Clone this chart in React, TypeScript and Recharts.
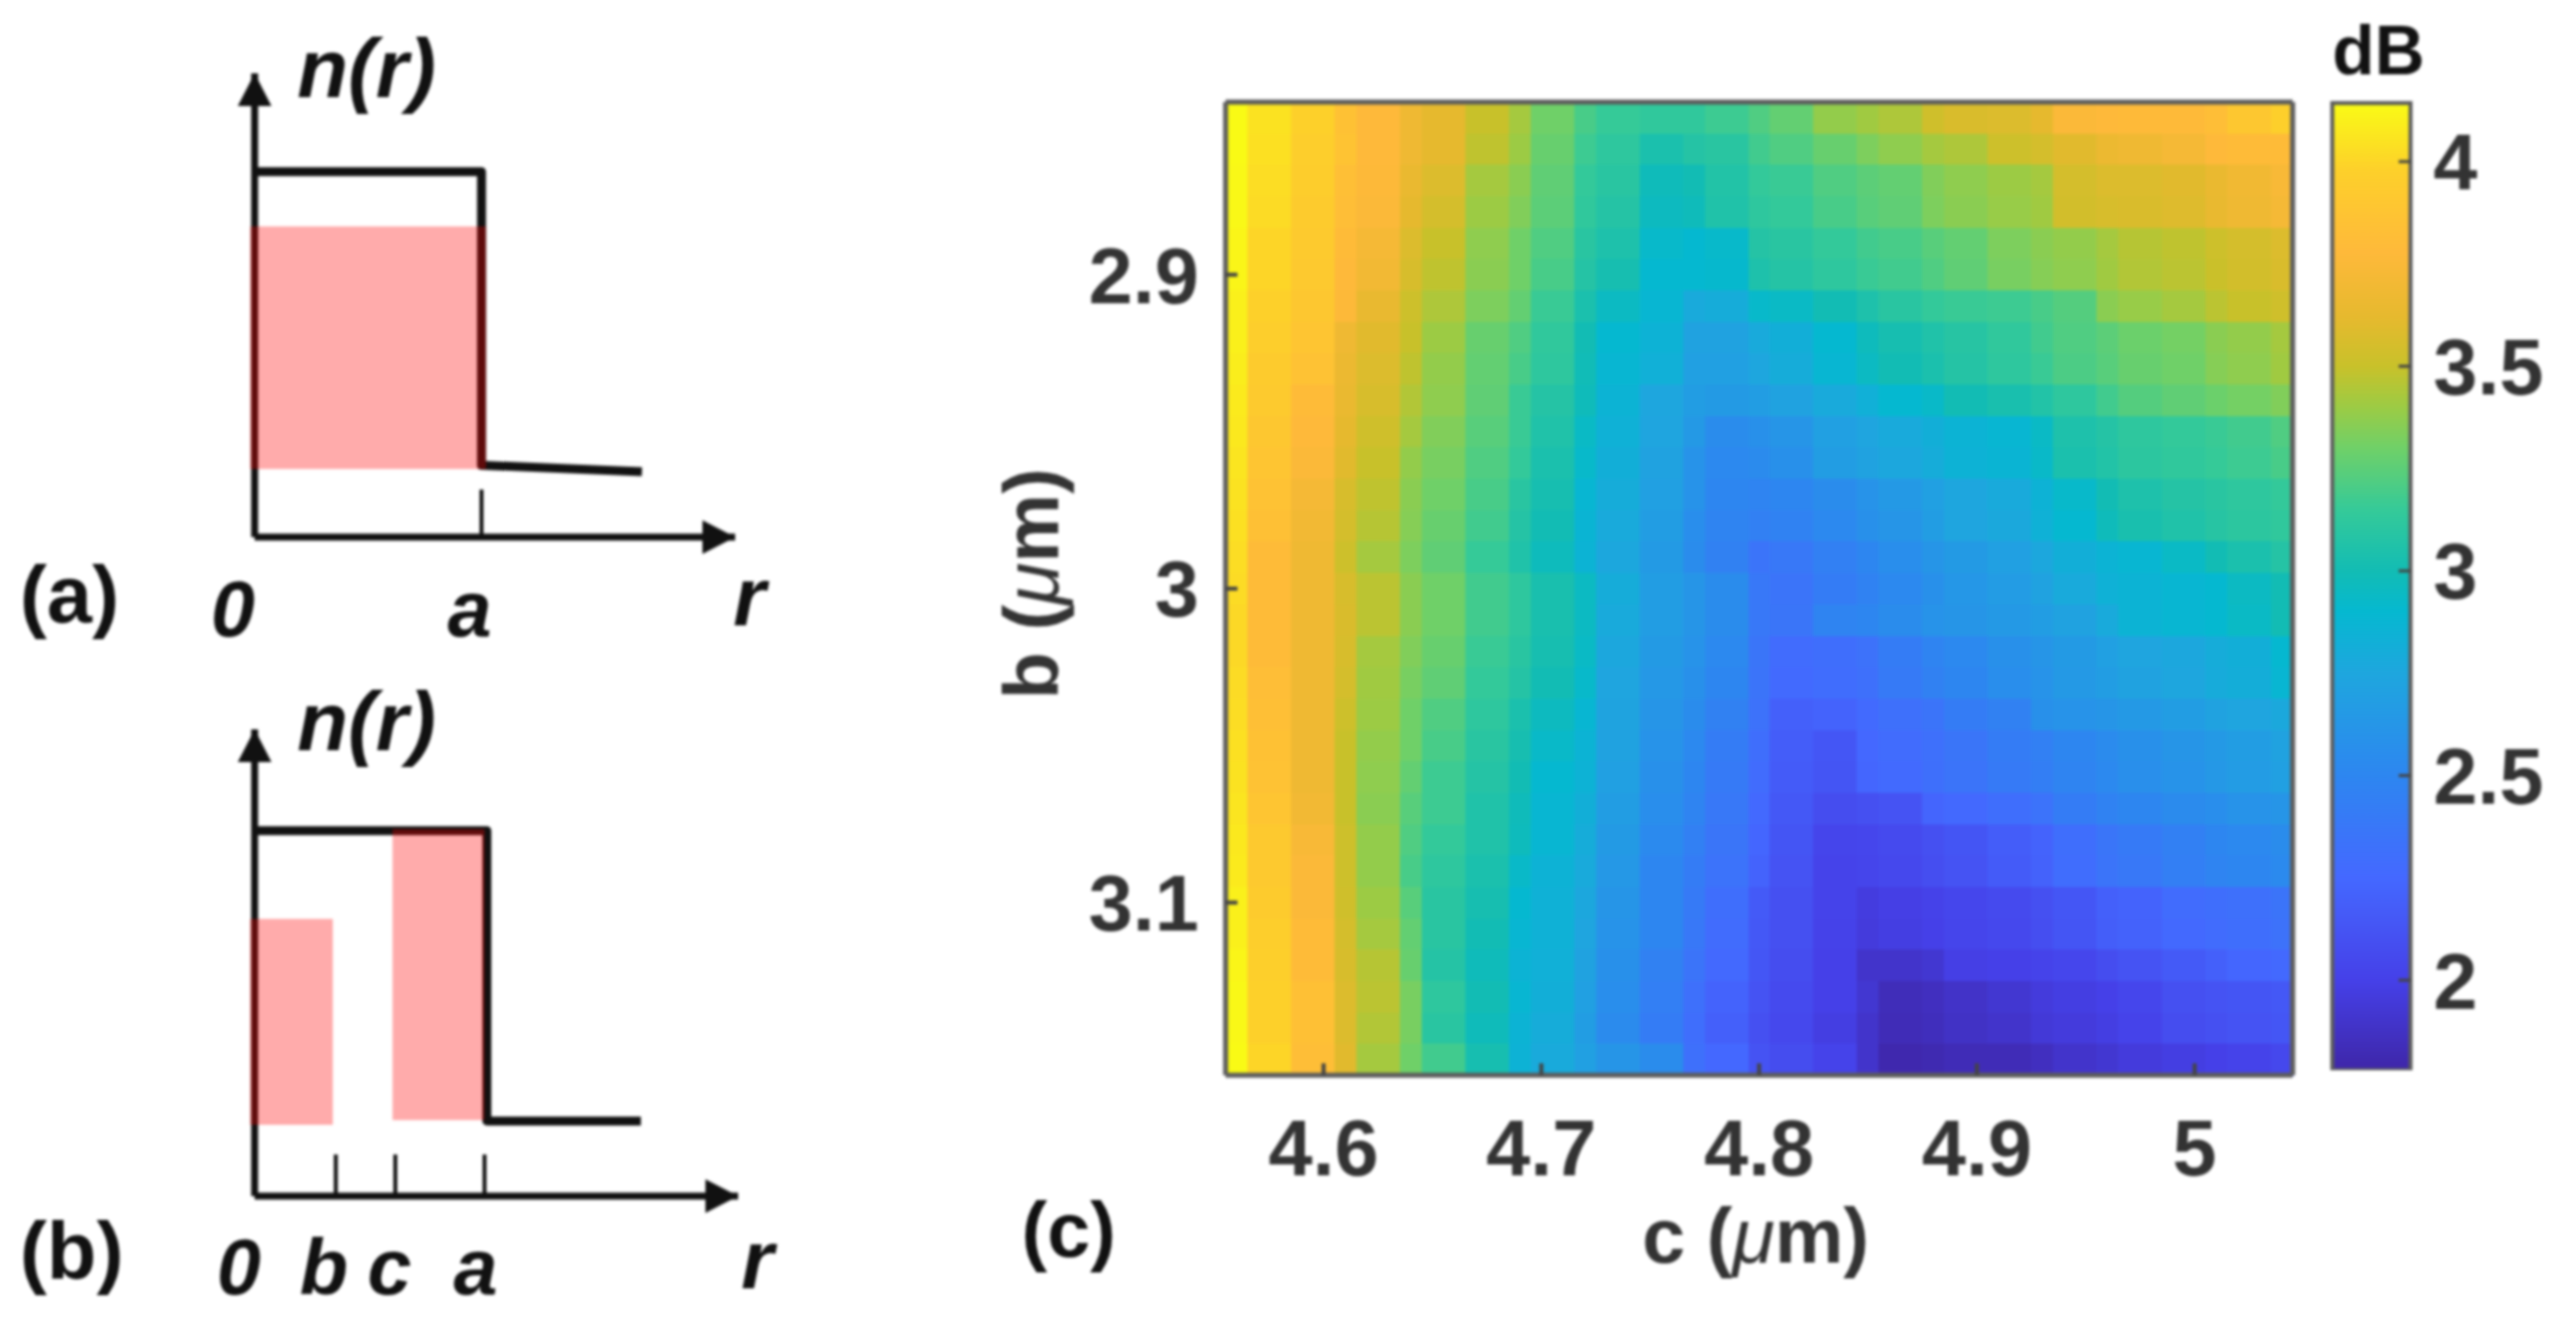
import React from 'react'
import {
  Bar,
  BarChart,
  ComposedChart,
  Line,
  ReferenceArea,
  Scatter,
  ScatterChart,
  XAxis,
  YAxis,
} from 'recharts'

// ---- panel (a) and (b) profiles ----
const profileA = [
  { r: 0, n: 0.788 },
  { r: 1, n: 0.788 },
  { r: 1, n: 0.155 },
  { r: 1.707, n: 0.141 },
]
const profileB = [
  { r: 0, n: 0.783 },
  { r: 1.01, n: 0.783 },
  { r: 1.01, n: 0.161 },
  { r: 1.68, n: 0.161 },
]
const pinkA = [{ from: -0.02, to: 1.02, low: 0.147, high: 0.67 }]
const pinkB = [
  { from: -0.02, to: 0.34, low: 0.153, high: 0.594 },
  { from: 0.6, to: 1.0, low: 0.163, high: 0.786 },
]
const ticksA = [0, 1]
const tickNamesA = ['0', 'a']
const ticksB = [0, 0.353, 0.612, 1]
const tickNamesB = ['0', 'b', 'c', 'a']

// ---- panel (c) heat map ----
const cTicks = [4.6, 4.7, 4.8, 4.9, 5]
const bTicks = [2.9, 3, 3.1]
const barTicks = [2, 2.5, 3, 3.5, 4]
// the columns come out 1 or 2 steps of 0.01 wide in the picture
const cSpans = [1, 2, 2, 1, 2, 1, 2, 2, 1, 2, 1, 2, 2, 1, 2, 1, 2, 2, 1, 2, 1, 2, 2, 1, 2, 1, 2, 2, 1, 2, 1]
const bValues = [
  2.85, 2.86, 2.87, 2.88, 2.89, 2.9, 2.91, 2.92, 2.93, 2.94, 2.95, 2.96, 2.97, 2.98, 2.99, 3, 3.01, 3.02, 3.03, 3.04,
  3.05, 3.06, 3.07, 3.08, 3.09, 3.1, 3.11, 3.12, 3.13, 3.14, 3.15,
]
const dbRows = [
  [4.14, 4.05, 3.98, 3.85, 3.78, 3.68, 3.62, 3.5, 3.42, 3.3, 3.2, 3.15, 3.13, 3.13, 3.17, 3.22, 3.27, 3.38, 3.41, 3.44, 3.53, 3.57, 3.58, 3.62, 3.76, 3.78, 3.79, 3.79, 3.82, 3.9, 3.97],
  [4.14, 4.04, 3.96, 3.87, 3.78, 3.68, 3.62, 3.48, 3.4, 3.28, 3.17, 3.12, 3.04, 3.08, 3.1, 3.18, 3.22, 3.28, 3.33, 3.37, 3.42, 3.44, 3.52, 3.55, 3.6, 3.66, 3.68, 3.72, 3.78, 3.8, 3.8],
  [4.13, 4.03, 3.95, 3.83, 3.77, 3.65, 3.58, 3.42, 3.36, 3.26, 3.14, 3.1, 2.98, 3.0, 3.07, 3.14, 3.16, 3.22, 3.25, 3.27, 3.34, 3.37, 3.4, 3.42, 3.55, 3.58, 3.58, 3.6, 3.65, 3.69, 3.74],
  [4.13, 4.02, 3.94, 3.82, 3.76, 3.62, 3.55, 3.4, 3.34, 3.25, 3.13, 3.08, 2.96, 2.98, 3.06, 3.12, 3.14, 3.2, 3.24, 3.26, 3.33, 3.36, 3.39, 3.41, 3.54, 3.56, 3.57, 3.59, 3.64, 3.68, 3.72],
  [4.12, 4.0, 3.93, 3.8, 3.72, 3.58, 3.5, 3.37, 3.3, 3.22, 3.1, 3.05, 2.92, 2.9, 2.92, 3.08, 3.1, 3.14, 3.18, 3.2, 3.24, 3.27, 3.33, 3.36, 3.38, 3.42, 3.46, 3.48, 3.52, 3.55, 3.58],
  [4.12, 4.0, 3.92, 3.78, 3.7, 3.56, 3.48, 3.36, 3.3, 3.2, 3.08, 3.02, 2.9, 2.9, 2.91, 3.05, 3.08, 3.12, 3.16, 3.18, 3.22, 3.26, 3.32, 3.35, 3.37, 3.41, 3.45, 3.47, 3.51, 3.54, 3.57],
  [4.1, 3.98, 3.9, 3.77, 3.64, 3.52, 3.44, 3.33, 3.27, 3.16, 3.04, 2.95, 2.88, 2.78, 2.8, 2.92, 2.94, 3.0, 3.05, 3.1, 3.14, 3.16, 3.17, 3.2, 3.23, 3.36, 3.39, 3.42, 3.47, 3.5, 3.53],
  [4.1, 3.96, 3.88, 3.68, 3.6, 3.5, 3.4, 3.28, 3.22, 3.13, 3.0, 2.9, 2.85, 2.72, 2.72, 2.78, 2.82, 2.9, 2.97, 3.02, 3.06, 3.09, 3.13, 3.18, 3.22, 3.25, 3.29, 3.31, 3.36, 3.38, 3.42],
  [4.09, 3.94, 3.86, 3.66, 3.58, 3.48, 3.38, 3.27, 3.2, 3.12, 2.99, 2.88, 2.83, 2.7, 2.7, 2.75, 2.8, 2.88, 2.95, 3.0, 3.04, 3.08, 3.12, 3.16, 3.21, 3.24, 3.28, 3.3, 3.35, 3.37, 3.41],
  [4.08, 3.93, 3.8, 3.65, 3.56, 3.45, 3.37, 3.26, 3.16, 3.08, 2.98, 2.86, 2.75, 2.68, 2.66, 2.68, 2.72, 2.78, 2.83, 2.9, 2.93, 3.0, 3.03, 3.07, 3.12, 3.18, 3.23, 3.26, 3.29, 3.31, 3.34],
  [4.07, 3.9, 3.78, 3.62, 3.53, 3.42, 3.34, 3.24, 3.16, 3.06, 2.94, 2.84, 2.74, 2.65, 2.55, 2.58, 2.62, 2.7, 2.74, 2.78, 2.82, 2.86, 2.88, 2.94, 3.05, 3.08, 3.12, 3.14, 3.16, 3.18, 3.22],
  [4.06, 3.88, 3.76, 3.6, 3.5, 3.38, 3.32, 3.22, 3.14, 3.04, 2.92, 2.82, 2.72, 2.6, 2.52, 2.54, 2.58, 2.68, 2.72, 2.76, 2.8, 2.85, 2.87, 2.93, 3.04, 3.07, 3.11, 3.13, 3.15, 3.17, 3.2],
  [4.05, 3.86, 3.72, 3.56, 3.48, 3.36, 3.3, 3.2, 3.1, 3.02, 2.88, 2.8, 2.7, 2.6, 2.5, 2.48, 2.5, 2.55, 2.6, 2.65, 2.7, 2.75, 2.78, 2.85, 2.92, 3.0, 3.05, 3.08, 3.1, 3.12, 3.14],
  [4.04, 3.84, 3.7, 3.55, 3.46, 3.35, 3.28, 3.18, 3.08, 3.0, 2.87, 2.78, 2.68, 2.56, 2.48, 2.45, 2.47, 2.52, 2.58, 2.62, 2.68, 2.74, 2.77, 2.84, 2.9, 2.98, 3.03, 3.06, 3.09, 3.11, 3.13],
  [4.03, 3.8, 3.68, 3.52, 3.42, 3.33, 3.26, 3.15, 3.06, 2.97, 2.86, 2.76, 2.66, 2.55, 2.46, 2.35, 2.38, 2.45, 2.5, 2.56, 2.62, 2.66, 2.7, 2.76, 2.82, 2.86, 2.88, 2.94, 3.0, 3.04, 3.08],
  [4.02, 3.8, 3.68, 3.56, 3.47, 3.36, 3.3, 3.18, 3.12, 3.03, 2.95, 2.8, 2.68, 2.62, 2.55, 2.38, 2.35, 2.42, 2.47, 2.52, 2.58, 2.63, 2.67, 2.72, 2.78, 2.84, 2.86, 2.88, 2.9, 2.95, 3.0],
  [4.01, 3.8, 3.68, 3.57, 3.47, 3.36, 3.3, 3.18, 3.12, 3.03, 2.95, 2.78, 2.68, 2.62, 2.55, 2.38, 2.36, 2.48, 2.5, 2.55, 2.6, 2.62, 2.65, 2.68, 2.72, 2.78, 2.86, 2.88, 2.9, 2.94, 3.0],
  [4.01, 3.8, 3.68, 3.56, 3.42, 3.34, 3.28, 3.16, 3.1, 3.02, 2.94, 2.76, 2.66, 2.6, 2.52, 2.36, 2.28, 2.3, 2.33, 2.42, 2.48, 2.52, 2.58, 2.62, 2.66, 2.7, 2.74, 2.76, 2.8, 2.82, 2.9],
  [4.02, 3.82, 3.68, 3.55, 3.41, 3.32, 3.26, 3.14, 3.08, 3.0, 2.92, 2.74, 2.64, 2.58, 2.5, 2.35, 2.27, 2.29, 2.32, 2.4, 2.46, 2.5, 2.56, 2.6, 2.65, 2.68, 2.72, 2.75, 2.79, 2.81, 2.88],
  [4.03, 3.83, 3.68, 3.52, 3.4, 3.3, 3.22, 3.12, 3.04, 2.96, 2.88, 2.73, 2.62, 2.55, 2.46, 2.33, 2.2, 2.22, 2.27, 2.32, 2.35, 2.42, 2.46, 2.58, 2.6, 2.62, 2.65, 2.68, 2.72, 2.74, 2.77],
  [4.04, 3.85, 3.68, 3.5, 3.38, 3.3, 3.2, 3.1, 3.02, 2.93, 2.86, 2.72, 2.6, 2.52, 2.42, 2.3, 2.18, 2.14, 2.25, 2.28, 2.32, 2.36, 2.42, 2.45, 2.5, 2.54, 2.58, 2.62, 2.65, 2.68, 2.72],
  [4.05, 3.86, 3.68, 3.5, 3.37, 3.27, 3.17, 3.08, 3.0, 2.9, 2.85, 2.7, 2.58, 2.5, 2.4, 2.28, 2.17, 2.13, 2.24, 2.27, 2.31, 2.35, 2.4, 2.43, 2.48, 2.52, 2.57, 2.6, 2.64, 2.67, 2.7],
  [4.06, 3.88, 3.7, 3.5, 3.36, 3.24, 3.17, 3.06, 2.98, 2.88, 2.82, 2.68, 2.56, 2.48, 2.38, 2.26, 2.15, 2.08, 2.1, 2.12, 2.23, 2.26, 2.3, 2.34, 2.42, 2.47, 2.5, 2.54, 2.56, 2.6, 2.62],
  [4.07, 3.92, 3.74, 3.52, 3.38, 3.22, 3.14, 3.06, 2.97, 2.88, 2.8, 2.66, 2.53, 2.45, 2.36, 2.24, 2.13, 2.03, 2.04, 2.06, 2.1, 2.13, 2.18, 2.22, 2.3, 2.36, 2.4, 2.45, 2.5, 2.52, 2.55],
  [4.08, 3.92, 3.76, 3.52, 3.38, 3.2, 3.12, 3.04, 2.93, 2.85, 2.78, 2.64, 2.5, 2.42, 2.34, 2.22, 2.12, 2.02, 2.03, 2.05, 2.09, 2.12, 2.17, 2.21, 2.29, 2.35, 2.38, 2.44, 2.48, 2.5, 2.53],
  [4.1, 3.94, 3.76, 3.53, 3.4, 3.24, 3.1, 3.02, 2.9, 2.84, 2.76, 2.62, 2.5, 2.4, 2.3, 2.16, 2.1, 2.02, 1.97, 1.99, 2.01, 2.04, 2.06, 2.1, 2.14, 2.2, 2.22, 2.28, 2.3, 2.32, 2.35],
  [4.1, 3.96, 3.8, 3.55, 3.42, 3.27, 3.1, 3.0, 2.88, 2.84, 2.74, 2.6, 2.5, 2.38, 2.28, 2.15, 2.1, 2.01, 1.96, 1.98, 2.0, 2.03, 2.05, 2.09, 2.13, 2.19, 2.21, 2.26, 2.28, 2.3, 2.33],
  [4.12, 3.97, 3.8, 3.56, 3.46, 3.28, 3.08, 2.98, 2.86, 2.83, 2.72, 2.58, 2.46, 2.35, 2.26, 2.14, 2.08, 2.0, 1.9, 1.9, 1.92, 1.99, 2.0, 2.02, 2.04, 2.08, 2.12, 2.16, 2.2, 2.24, 2.26],
  [4.13, 3.98, 3.84, 3.58, 3.47, 3.32, 3.12, 3.0, 2.88, 2.82, 2.7, 2.56, 2.44, 2.32, 2.22, 2.12, 2.06, 2.0, 1.92, 1.84, 1.86, 1.89, 1.92, 1.96, 1.98, 2.0, 2.04, 2.1, 2.12, 2.13, 2.15],
  [4.13, 3.98, 3.84, 3.58, 3.45, 3.32, 3.1, 2.98, 2.86, 2.8, 2.68, 2.54, 2.42, 2.3, 2.2, 2.1, 2.05, 1.98, 1.9, 1.83, 1.85, 1.88, 1.9, 1.94, 1.96, 1.98, 2.02, 2.08, 2.1, 2.12, 2.14],
  [4.14, 4.0, 3.82, 3.6, 3.42, 3.3, 3.18, 3.02, 2.85, 2.78, 2.7, 2.62, 2.55, 2.32, 2.25, 2.12, 2.08, 2.02, 1.9, 1.8, 1.81, 1.83, 1.83, 1.86, 1.9, 1.92, 1.96, 1.98, 2.0, 2.02, 2.05],
]

// colour scale: [dB, colour]
const scaleStops: [number, string][] = [
  [1.78, '#3e26a8'],
  [2.0, '#4540e8'],
  [2.25, '#4468ff'],
  [2.5, '#2d86f0'],
  [2.75, '#1ea6de'],
  [2.9, '#05b8d0'],
  [3.0, '#12bcb4'],
  [3.15, '#35ca98'],
  [3.3, '#6fd068'],
  [3.4, '#9ccb44'],
  [3.5, '#c8c12a'],
  [3.62, '#e6b92e'],
  [3.78, '#feb93a'],
  [3.98, '#fdd02a'],
  [4.143, '#f9fb15'],
]

const C_MIN = 4.555
const C_MAX = 5.045
const B_MIN = 2.845
const B_MAX = 3.155
const BAR_MIN = 1.78
const BAR_MAX = 4.143

const HEAT_W = 1077
const HEAT_H = 982
const PX_PER_C = HEAT_W / (C_MAX - C_MIN)
const PX_PER_B = HEAT_H / (B_MAX - B_MIN)

const hexRgb = (hex: string) => [1, 3, 5].map((i) => parseInt(hex.slice(i, i + 2), 16))

function dbColor(v: number) {
  const last = scaleStops.length - 1
  for (let i = 0; i < last; i++) {
    const [v0, h0] = scaleStops[i]
    const [v1, h1] = scaleStops[i + 1]
    if (v <= v1 || i === last - 1) {
      const t = Math.max(0, Math.min(1, (v - v0) / (v1 - v0)))
      const a = hexRgb(h0)
      const b = hexRgb(h1)
      return `rgb(${a.map((x, k) => Math.round(x + (b[k] - x) * t)).join(',')})`
    }
  }
  return scaleStops[last][1]
}

const heatCells = dbRows.flatMap((row, ri) => {
  let steps = 0
  return row.map((db, ci) => {
    const span = cSpans[ci]
    const c = C_MIN + (steps + span / 2) * 0.01
    steps += span
    return { c, b: bValues[ri], span, db }
  })
})

const barData = [{ name: 'dB', range: [BAR_MIN, BAR_MAX] }]

const SANS = '"Liberation Sans", Arial, sans-serif'
const INK = '#111'
const GREY = '#333'
const FRAME = '#5c5c5c'

function HeatCell({ cx, cy, payload }: any) {
  const w = payload.span * 0.01 * PX_PER_C
  const h = 0.01 * PX_PER_B
  return (
    <rect
      x={cx - w / 2}
      y={cy - h / 2}
      width={w + 0.6}
      height={h + 0.6}
      fill={dbColor(payload.db)}
      shapeRendering='crispEdges'
    />
  )
}

function NoMark() {
  return null
}

function ProfileTick({ x, y, payload, names, ticks, shifts }: any) {
  const i = ticks.indexOf(payload.value)
  return (
    <text
      x={x + shifts[i]}
      y={y}
      dy='0.71em'
      textAnchor='middle'
      fontFamily={SANS}
      fontSize={80}
      fontWeight={700}
      fontStyle='italic'
      fill={INK}
    >
      {names[i]}
    </text>
  )
}

function Profile({
  plotRight,
  top,
  axisY,
  tipY,
  rMax,
  data,
  pink,
  ticks,
  names,
  shifts,
  tickUp,
  tickGap,
}: {
  plotRight: number
  top: number
  axisY: number
  tipY: number
  rMax: number
  data: { r: number; n: number }[]
  pink: { from: number; to: number; low: number; high: number }[]
  ticks: number[]
  names: string[]
  shifts: number[]
  tickUp: number
  tickGap: number
}) {
  const left = 257
  const size = { width: 600, height: axisY - top + 130 }
  const margin = { top: tipY - top, right: 800 - plotRight, bottom: 0, left: 0 }
  return (
    <div style={{ position: 'absolute', left: 200, top }}>
      <ComposedChart {...size} data={data} margin={margin}>
        <XAxis
          dataKey='r'
          type='number'
          domain={[0, rMax]}
          ticks={ticks}
          height={130}
          interval={0}
          axisLine={{ stroke: INK, strokeWidth: 7, markerEnd: 'url(#axisArrow)' }}
          tickLine={{ stroke: INK, strokeWidth: 4 }}
          tickSize={-tickUp}
          tickMargin={tickGap + tickUp}
          tick={<ProfileTick names={names} ticks={ticks} shifts={shifts} />}
        />
        <YAxis
          type='number'
          domain={[0, 1]}
          width={left - 200}
          tick={false}
          tickLine={false}
          axisLine={{ stroke: INK, strokeWidth: 7, markerStart: 'url(#axisArrow)' }}
        />
        <Line
          dataKey='n'
          stroke={INK}
          strokeWidth={9}
          dot={false}
          strokeLinejoin='round'
          isAnimationActive={false}
        />
      </ComposedChart>
      {/* pink bands sit over the black lines, so they get their own layer */}
      <div style={{ position: 'absolute', left: 0, top: 0 }}>
        <ComposedChart {...size} data={data} margin={margin}>
          <XAxis dataKey='r' type='number' domain={[0, rMax]} height={130} tick={false} tickLine={false} axisLine={false} />
          <YAxis type='number' domain={[0, 1]} width={left - 200} tick={false} tickLine={false} axisLine={false} />
          <Line dataKey='n' stroke='none' dot={false} isAnimationActive={false} />
          {pink.map((p) => (
            <ReferenceArea
              key={p.from}
              x1={p.from}
              x2={p.to}
              y1={p.low}
              y2={p.high}
              fill='#ff0000'
              fillOpacity={0.33}
              stroke='none'
              ifOverflow='visible'
            />
          ))}
        </ComposedChart>
      </div>
    </div>
  )
}

function HeatMap() {
  const frame = { stroke: FRAME, strokeWidth: 5 }
  const tickLine = { stroke: '#444', strokeWidth: 4 }
  const tick = { fontFamily: SANS, fontSize: 80, fontWeight: 700, fill: GREY }
  return (
    <div style={{ position: 'absolute', left: 1000, top: 60 }}>
      <ScatterChart width={1340} height={1240} margin={{ top: 43, right: 26, bottom: 0, left: 0 }}>
        <XAxis
          dataKey='c'
          type='number'
          domain={[C_MIN, C_MAX]}
          height={215}
          tick={false}
          tickLine={false}
          axisLine={false}
        />
        <YAxis
          dataKey='b'
          type='number'
          reversed
          domain={[B_MIN, B_MAX]}
          width={237}
          tick={false}
          tickLine={false}
          axisLine={false}
        />
        <Scatter data={heatCells} dataKey='db' shape={HeatCell} isAnimationActive={false} />
      </ScatterChart>
      {/* frame and ticks are drawn over the cells, on a second chart without visible marks */}
      <div style={{ position: 'absolute', left: 0, top: 0 }}>
        <ScatterChart width={1340} height={1240} margin={{ top: 42, right: 25, bottom: 0, left: 0 }}>
          <XAxis
            dataKey='c'
            type='number'
            domain={[C_MIN, C_MAX]}
            ticks={cTicks}
            height={215}
            interval={0}
            axisLine={frame}
            tickLine={tickLine}
            tickSize={-12}
            tickMargin={56}
            tick={tick}
          />
          <XAxis
            xAxisId='top'
            dataKey='c'
            orientation='top'
            type='number'
            domain={[C_MIN, C_MAX]}
            ticks={cTicks}
            height={1}
            interval={0}
            axisLine={frame}
            tickLine={tickLine}
            tickSize={-12}
            tick={false}
          />
          <YAxis
            dataKey='b'
            type='number'
            reversed
            domain={[B_MIN, B_MAX]}
            ticks={bTicks}
            width={237}
            interval={0}
            axisLine={frame}
            tickLine={tickLine}
            tickSize={-12}
            tickMargin={39}
            tick={tick}
          />
          <YAxis
            yAxisId='right'
            dataKey='b'
            orientation='right'
            type='number'
            reversed
            domain={[B_MIN, B_MAX]}
            ticks={bTicks}
            width={1}
            interval={0}
            axisLine={frame}
            tickLine={tickLine}
            tickSize={-12}
            tick={false}
          />
          <Scatter data={heatCells} dataKey='db' shape={NoMark} isAnimationActive={false} />
          <Scatter
            data={heatCells}
            dataKey='db'
            xAxisId='top'
            yAxisId='right'
            shape={NoMark}
            isAnimationActive={false}
          />
        </ScatterChart>
      </div>
    </div>
  )
}

function ColorBar() {
  return (
    <div style={{ position: 'absolute', left: 2340, top: 90 }}>
      <BarChart
        width={250}
        height={990}
        data={barData}
        barCategoryGap={0}
        margin={{ top: 14, right: 0, bottom: 0, left: 14 }}
      >
        <XAxis dataKey='name' hide />
        <YAxis
          orientation='right'
          type='number'
          domain={[BAR_MIN, BAR_MAX]}
          ticks={barTicks}
          width={157}
          interval={0}
          axisLine={false}
          tickLine={{ stroke: '#444', strokeWidth: 3 }}
          tickSize={-12}
          tickMargin={35}
          tickFormatter={(v: number) => String(v)}
          tick={{ fontFamily: SANS, fontSize: 80, fontWeight: 700, fill: GREY, textAnchor: 'start' }}
        />
        <Bar dataKey='range' fill='url(#parulaBar)' stroke={FRAME} strokeWidth={4} isAnimationActive={false} />
      </BarChart>
    </div>
  )
}

function Notes() {
  const bold = { fontFamily: SANS, fontWeight: 700, fill: INK } as const
  const it = { ...bold, fontStyle: 'italic' } as const
  const mu = <tspan fontStyle='italic' fontWeight={400}>μ</tspan>
  return (
    <svg width={2600} height={1331} style={{ position: 'absolute', left: 0, top: 0, pointerEvents: 'none' }}>
      <text x={300} y={98} fontSize={84} {...it}>n(r)</text>
      <text x={300} y={757} fontSize={84} {...it}>n(r)</text>
      <text x={20} y={628} fontSize={82} {...bold}>(a)</text>
      <text x={20} y={1290} fontSize={82} {...bold}>(b)</text>
      <text x={740} y={631} fontSize={84} {...it}>r</text>
      <text x={748} y={1300} fontSize={84} {...it}>r</text>
      <text x={1031} y={1268} fontSize={78} {...bold}>(c)</text>
      <text x={1772} y={1274} fontSize={78} textAnchor='middle' {...bold} fill={GREY}>c ({mu}m)</text>
      <text
        x={1068}
        y={589}
        fontSize={78}
        textAnchor='middle'
        transform='rotate(-90 1068 589)'
        {...bold}
        fill={GREY}
      >
        b ({mu}m)
      </text>
      <text x={2354} y={75} fontSize={70} {...bold}>dB</text>
    </svg>
  )
}

export default function App() {
  return (
    <div
      style={{
        position: 'absolute',
        left: 0,
        top: 0,
        width: 2600,
        height: 1331,
        background: '#fff',
        overflow: 'hidden',
        filter: 'blur(1.8px)',
      }}
    >
      <svg width={0} height={0} style={{ position: 'absolute' }}>
        <defs>
          <marker
            id='axisArrow'
            markerUnits='userSpaceOnUse'
            markerWidth={36}
            markerHeight={36}
            refX={33}
            refY={17}
            orient='auto-start-reverse'
          >
            <path d='M0,0 L33,17 L0,34 Z' fill={INK} />
          </marker>
          <linearGradient id='parulaBar' x1='0' y1='1' x2='0' y2='0'>
            {scaleStops.map(([v, color]) => (
              <stop key={v} offset={(v - BAR_MIN) / (BAR_MAX - BAR_MIN)} stopColor={color} />
            ))}
          </linearGradient>
        </defs>
      </svg>
      <Profile
        plotRight={742}
        top={50}
        axisY={542}
        tipY={74}
        rMax={2.118}
        data={profileA}
        pink={pinkA}
        ticks={ticksA}
        names={tickNamesA}
        shifts={[-22, -12]}
        tickUp={48}
        tickGap={43}
      />
      <Profile
        plotRight={745}
        top={710}
        axisY={1207}
        tipY={736}
        rMax={2.103}
        data={profileB}
        pink={pinkB}
        ticks={ticksB}
        names={tickNamesB}
        shifts={[-16, -12, -6, -9]}
        tickUp={42}
        tickGap={42}
      />
      <HeatMap />
      <ColorBar />
      <Notes />
    </div>
  )
}
